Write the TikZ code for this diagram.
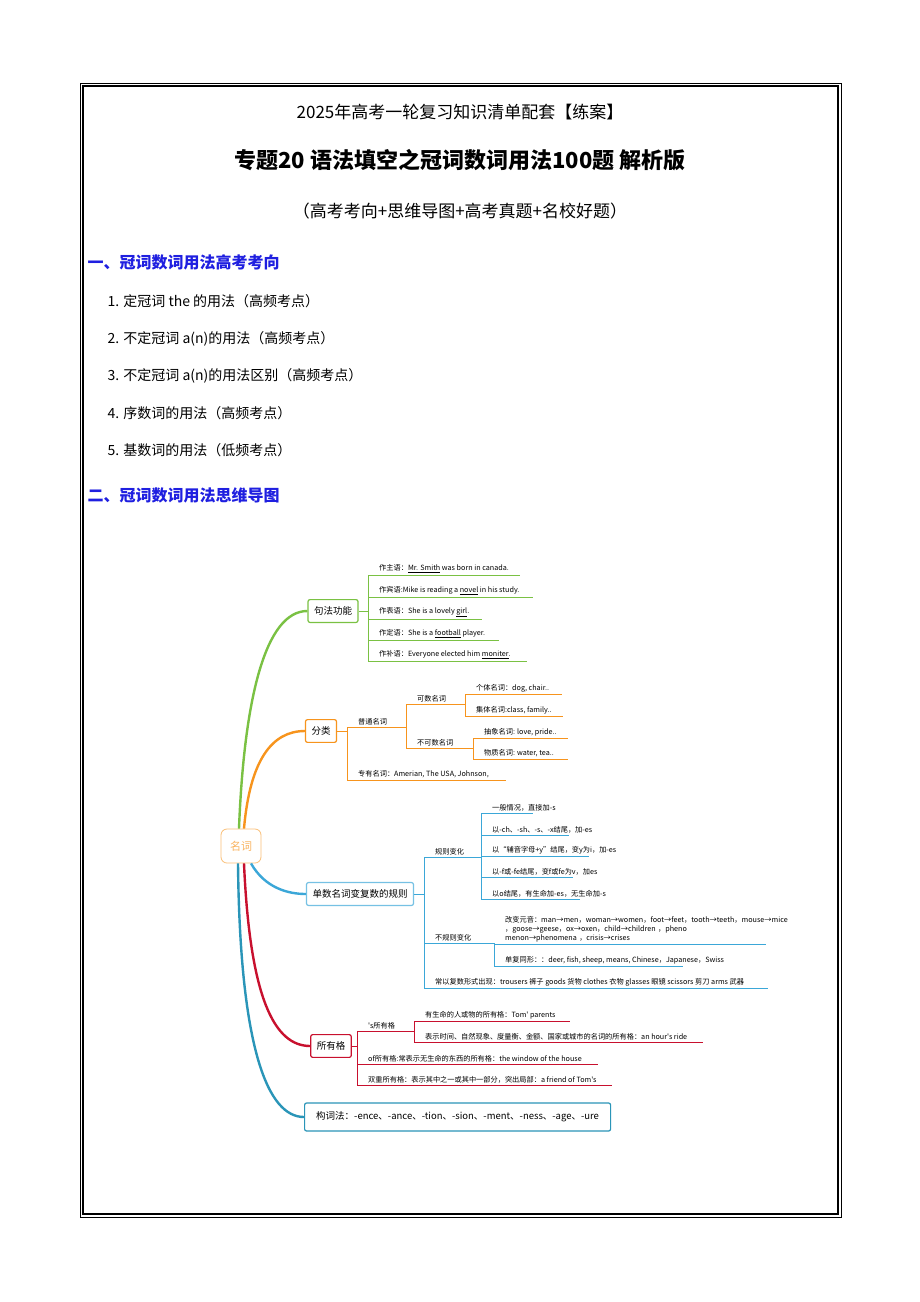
\documentclass[tikz,border=0pt]{standalone}
\usepackage{fontspec}
\setmainfont{Liberation Serif}
\newfontfamily\cjk{Noto Sans CJK SC}
\usetikzlibrary{positioning}
\definecolor{mgreen}{HTML}{7AC143}
\definecolor{morange}{HTML}{F7941D}
\definecolor{mblue}{HTML}{3BA7D8}
\definecolor{mred}{HTML}{C8102E}
\definecolor{mteal}{HTML}{2A95B8}
\definecolor{hblue}{HTML}{1F1FE0}
\tikzset{
  branch/.style={draw=#1,very thick,rounded corners=2pt,fill=white,inner xsep=6pt,inner ysep=7pt,font=\cjk\fontsize{9.5}{11}\selectfont},
  leaf/.style={anchor=south west,inner sep=1pt,font=\cjk\fontsize{7.2}{9}\selectfont},
  curve/.style={draw=#1,line width=2.4pt},
  line/.style={draw=#1,line width=0.6pt},
  head/.style={font=\cjk\fontsize{17}{19}\selectfont},
  item/.style={anchor=west,font=\cjk\fontsize{14}{16}\selectfont},
  sect/.style={anchor=west,text=hblue,font=\cjk\bfseries\fontsize{16}{18}\selectfont}
}
% leaf: x, y of line, end x, colour, name, text
\newcommand{\leafat}[6]{%
  \draw[line=#4] (#1,#2) -- (#3,#2);
  \node[leaf] (#5) at (#1+10,#2-1) {#6};}
\begin{document}
\begin{tikzpicture}[x=1pt,y=-1pt]
\useasboundingbox[fill=white] (0,0) rectangle (920,1302);
% page frame
\draw[line width=0.5pt] (80,83) rectangle (841,1217);
\draw[line width=1.2pt] (83,86) rectangle (838,1214);
% heading
\node[head] (t1) at (460,112) {2025年高考一轮复习知识清单配套【练案】};
\node[font=\cjk\bfseries\fontsize{22}{24}\selectfont] (t2) at (460,160) {专题20 语法填空之冠词数词用法100题 解析版};
\node[head] (t3) at (460,211) {（高考考向+思维导图+高考真题+名校好题）};
\node[sect] (s1) at (84,262) {一、冠词数词用法高考考向};
\node[item] (i1) at (104,301) {1. 定冠词 the 的用法（高频考点）};
\node[item] (i2) at (104,339) {2. 不定冠词 a(n)的用法（高频考点）};
\node[item] (i3) at (104,376) {3. 不定冠词 a(n)的用法区别（高频考点）};
\node[item] (i4) at (104,413) {4. 序数词的用法（高频考点）};
\node[item] (i5) at (104,450) {5. 基数词的用法（低频考点）};
\node[sect] (s2) at (84,495) {二、冠词数词用法思维导图};
% centre
\node[draw=morange!60,thick,rounded corners=6pt,fill=white,text=morange!70,minimum width=40pt,minimum height=34pt,font=\cjk\fontsize{11}{12}\selectfont] (noun) at (241,846) {名词};
% branch boxes
\node[branch=mgreen] (syn) at (333,611) {句法功能};
\node[branch=morange] (cls) at (321,731) {分类};
\node[branch=mblue!70] (plu) at (360,894) {单数名词变复数的规则};
\node[branch=mred] (pos) at (331,1046) {所有格};
\node[branch=mteal,anchor=west,minimum height=28pt,minimum width=306pt] (wf) at (304,1117) {构词法：-ence、-ance、-tion、-sion、-ment、-ness、-age、-ure};
% curves
\draw[curve=mgreen] ([xshift=-2pt]noun.north) .. controls (244,700) and (265,611) .. (syn.west);
\draw[curve=morange] ([xshift=3pt]noun.north) .. controls (250,760) and (272,731) .. (cls.west);
\draw[curve=mblue] ([xshift=10pt]noun.south) .. controls (265,888) and (288,894) .. (plu.west);
\draw[curve=mred] ([xshift=3pt]noun.south) .. controls (250,1000) and (275,1046) .. (pos.west);
\draw[curve=mteal] ([xshift=-3pt]noun.south) .. controls (240,1050) and (268,1117) .. (wf.west);
% 句法功能
\draw[line=mgreen] (syn.east) -- (368,611);
\draw[line=mgreen] (368,575) -- (368,661);
\leafat{368}{575}{520}{mgreen}{f1}{作主语：\underline{Mr. Smith} was born in canada.}
\leafat{368}{597}{533}{mgreen}{f2}{作宾语:Mike is reading a \underline{novel} in his study.}
\leafat{368}{619}{482}{mgreen}{f3}{作表语：She is a lovely \underline{girl}.}
\leafat{368}{640}{499}{mgreen}{f4}{作定语：She is a \underline{football} player.}
\leafat{368}{661}{527}{mgreen}{f5}{作补语：Everyone elected him \underline{moniter}.}
% 分类
\draw[line=morange] (cls.east) -- (347,731);
\draw[line=morange] (347,727) -- (347,780);
\leafat{347}{727}{406}{morange}{c1}{普通名词}
\draw[line=morange] (406,704) -- (406,748);
\leafat{406}{704}{465}{morange}{c2}{可数名词}
\draw[line=morange] (465,694) -- (465,716);
\leafat{465}{694}{562}{morange}{c3}{个体名词：dog, chair..}
\leafat{465}{716}{563}{morange}{c4}{集体名词:class, family..}
\leafat{406}{748}{473}{morange}{c5}{不可数名词}
\draw[line=morange] (473,738) -- (473,759);
\leafat{473}{738}{568}{morange}{c6}{抽象名词: love, pride..}
\leafat{473}{759}{568}{morange}{c7}{物质名词: water, tea..}
\leafat{347}{780}{506}{morange}{c8}{专有名词：Amerian, The USA, Johnson,}
% 单数名词变复数的规则
\draw[line=mblue] (plu.east) -- (424,894);
\draw[line=mblue] (424,857) -- (424,988);
\leafat{424}{857}{481}{mblue}{p1}{规则变化}
\draw[line=mblue] (481,813) -- (481,899);
\leafat{481}{813}{533}{mblue}{p2}{一般情况，直接加-s}
\leafat{481}{835}{569}{mblue}{p3}{以-ch、-sh、-s、-x结尾，加-es}
\leafat{481}{856}{589}{mblue}{p4}{以“辅音字母+y”结尾，变y为i，加-es}
\leafat{481}{877}{573}{mblue}{p5}{以-f或-fe结尾，变f或fe为v，加es}
\leafat{481}{899}{580}{mblue}{p6}{以o结尾，有生命加-es，无生命加-s}
\leafat{424}{943}{494}{mblue}{p7}{不规则变化}
\draw[line=mblue] (494,943) -- (494,966);
\draw[line=mblue] (494,944) -- (766,944);
\node[leaf,text width=248pt,align=left] (p8) at (504,943) {改变元音：man→men，woman→women，foot→feet，tooth→teeth，mouse→mice ，goose→geese，ox→oxen，child→children ，pheno menon→phenomena ，crisis→crises};
\leafat{494}{966}{683}{mblue}{p9}{单复同形：：deer, fish, sheep, means, Chinese，Japanese，Swiss}
\leafat{424}{988}{768}{mblue}{p10}{常以复数形式出现：trousers 裤子 goods 货物 clothes 衣物 glasses 眼镜 scissors 剪刀 arms 武器}
% 所有格
\draw[line=mred] (pos.east) -- (357,1046);
\draw[line=mred] (357,1031) -- (357,1085);
\leafat{357}{1031}{414}{mred}{o1}{'s所有格}
\draw[line=mred] (414,1021) -- (414,1042);
\leafat{414}{1021}{570}{mred}{o2}{有生命的人或物的所有格：Tom' parents}
\leafat{414}{1042}{703}{mred}{o3}{表示时间、自然现象、度量衡、金额、国家或城市的名词的所有格：an hour's ride}
\leafat{357}{1064}{598}{mred}{o4}{of所有格:常表示无生命的东西的所有格：the window of the house}
\leafat{357}{1085}{612}{mred}{o5}{双重所有格：表示其中之一或其中一部分，突出局部：a friend of Tom's}
\end{tikzpicture}
\end{document}
